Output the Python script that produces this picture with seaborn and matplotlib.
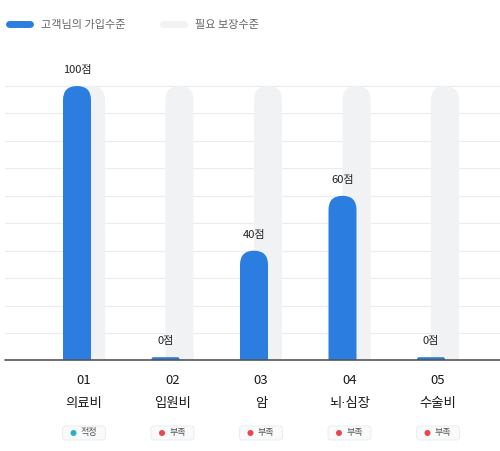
import pandas as pd
import seaborn as sns
import matplotlib.pyplot as plt
from matplotlib.patches import FancyBboxPatch, Circle
from matplotlib.lines import Line2D
from matplotlib.transforms import ScaledTranslation

# Data
codes = ['01', '02', '03', '04', '05']
categories = ['의료비', '입원비', '암', '뇌·심장', '수술비']
my_level = [100, 0, 40, 60, 0]
need_level = [100, 100, 100, 100, 100]
status = ['적정', '부족', '부족', '부족', '부족']
series_names = ['고객님의 가입수준', '필요 보장수준']

BLUE = '#2b7de0'
GRAY = '#f1f2f4'
status_colors = {'적정': '#2bb0c2', '부족': '#f0434b'}

df = pd.DataFrame({
    'category': categories * 2,
    'series': [series_names[0]] * len(categories) + [series_names[1]] * len(categories),
    'score': my_level + need_level,
})

sns.set_style('white')
plt.rcParams['font.family'] = ['Noto Sans CJK KR', 'DejaVu Sans']

fig = plt.figure(figsize=(5, 4.51), dpi=100)
ax_rect = [0.01, 0.2007, 0.99, 0.6694]
ax = fig.add_axes(ax_rect)
XLIM = (-0.8927, 4.7006)
YLIM = (0, 110)

# data units per pixel
ax_w = fig.get_figwidth() * fig.dpi * ax_rect[2]
ax_h = fig.get_figheight() * fig.dpi * ax_rect[3]
sx = (XLIM[1] - XLIM[0]) / ax_w
sy = (YLIM[1] - YLIM[0]) / ax_h

bar_px = 28
sns.barplot(data=df, x='category', y='score', hue='series', palette=[BLUE, GRAY],
            width=bar_px * sx, dodge=True, errorbar=None, legend=False,
            saturation=1, ax=ax)


def rounded_bar(cx, top, rad_px, color, z):
    ext = rad_px * sy
    p = FancyBboxPatch((cx - bar_px * sx / 2, -ext), bar_px * sx, top + ext,
                       boxstyle=f'round,pad=0,rounding_size={rad_px * sx}',
                       mutation_aspect=sy / sx, fc=color, ec='none', zorder=z)
    ax.add_patch(p)


# swap seaborn's bars for wider, overlapping, round-topped ones
colors = [BLUE, GRAY]
zorders = [3, 2]
for k, cont in enumerate(ax.containers):
    for bar in list(cont):
        cx = bar.get_x() + bar.get_width() / 2
        val = bar.get_height()
        bar.remove()
        if val > 0:
            top = val
            rounded_bar(cx, top, 14, colors[k], zorders[k])
        else:
            top = 3.3 * sy
            rounded_bar(cx, top, 2, colors[k], zorders[k])
        if k == 0:
            ax.text(cx, top + 16 * sy, f'{int(val)}점', ha='center', va='center',
                    fontsize=8, color='#222222', zorder=4)

ax.set_xlim(XLIM)
ax.set_ylim(YLIM)
ax.set_yticks(range(0, 101, 10))
ax.yaxis.grid(True, color='#ececec', lw=0.8)
ax.xaxis.grid(False)
ax.set_axisbelow(True)
ax.tick_params(left=False, bottom=False, labelleft=False, labelbottom=False)
for s in ax.spines.values():
    s.set_visible(False)
ax.set_xlabel('')
ax.set_ylabel('')
ax.axhline(0, color='#555555', lw=1.2, zorder=5, clip_on=False)

# category labels and status badges
for i in range(len(categories)):
    ax.annotate(codes[i], (i, 0), xytext=(0, -20.5), textcoords='offset pixels',
                ha='center', va='center', fontsize=9.5, color='#1a1a1a',
                fontweight='medium', annotation_clip=False)
    # DejaVu first so the middle dot stays narrow; Hangul falls back to Noto
    ax.annotate(categories[i], (i, 0), xytext=(0, -43.5), textcoords='offset pixels',
                ha='center', va='center', fontsize=9.6, color='#1a1a1a',
                family=['DejaVu Sans', 'Noto Sans CJK KR'],
                fontweight='medium', annotation_clip=False)
    tr = ScaledTranslation(i, 0, ax.transData)
    badge = FancyBboxPatch((-21.5, -79.5), 43, 14,
                           boxstyle='round,pad=0,rounding_size=3',
                           fc='#f9fafb', ec='#e8eaee', lw=0.6,
                           transform=tr, clip_on=False, zorder=5)
    ax.add_patch(badge)
    ax.add_patch(Circle((-10.5, -72.5), 3.0, fc=status_colors[status[i]], ec='none',
                        transform=tr, clip_on=False, zorder=6))
    ax.annotate(status[i], (i, 0), xytext=(5, -72.5), textcoords='offset pixels',
                ha='center', va='center', fontsize=6.5, color='#555555',
                annotation_clip=False, zorder=6)

# legend
handles = [Line2D([], [], color=c, lw=5, solid_capstyle='round') for c in colors]
ax.legend(handles, series_names, loc='center left',
          bbox_to_anchor=(0.017, 1 - 25 / 451), bbox_transform=fig.transFigure,
          ncol=2, frameon=False, handlelength=1.9, handletextpad=1.0,
          columnspacing=3.4, fontsize=8, labelcolor='#666666',
          borderpad=0, borderaxespad=0)

fig.savefig('out.png', dpi=100)
